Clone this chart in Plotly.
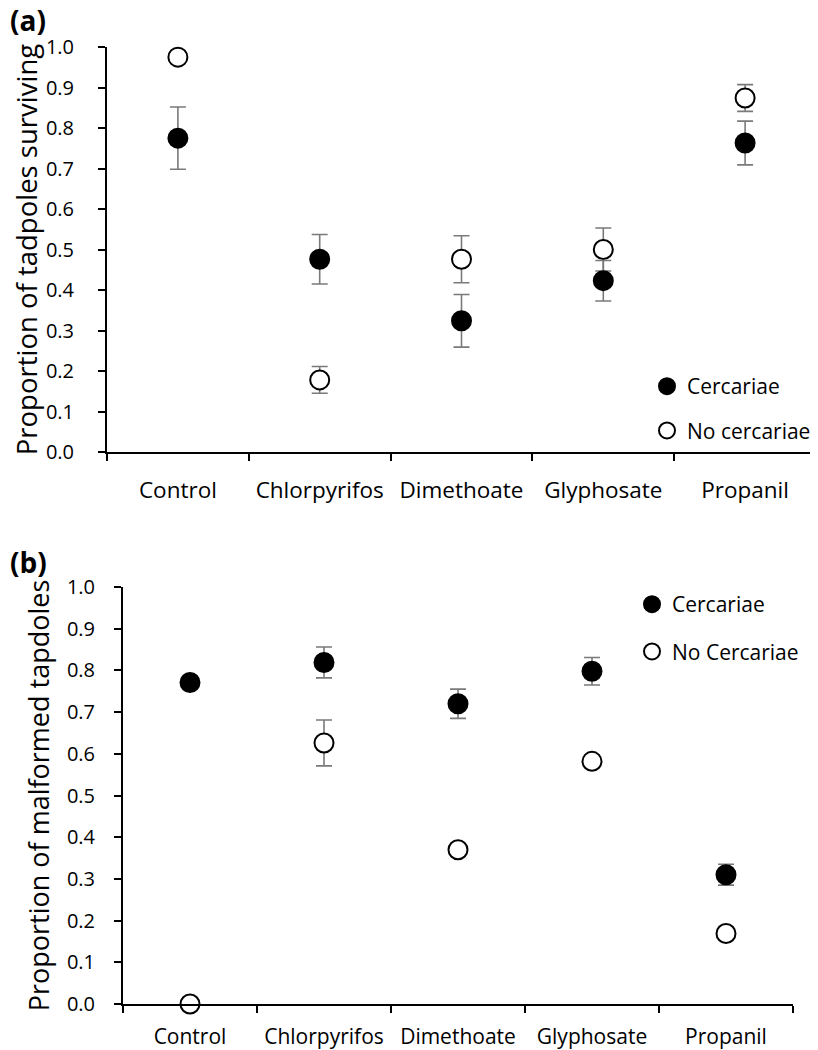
import plotly.graph_objects as go

categories = ["Control", "Chlorpyrifos", "Dimethoate", "Glyphosate", "Propanil"]
y_ticks = [0.0, 0.1, 0.2, 0.3, 0.4, 0.5, 0.6, 0.7, 0.8, 0.9, 1.0]

# Panel (a): proportion of tadpoles surviving
surv_cerc = [0.775, 0.476, 0.324, 0.423, 0.763]
surv_cerc_err = [0.077, 0.061, 0.065, 0.050, 0.054]
surv_nocerc = [0.975, 0.178, 0.476, 0.500, 0.874]
surv_nocerc_err = [0.0, 0.033, 0.058, 0.053, 0.033]

# Panel (b): proportion of malformed tadpoles
malf_cerc = [0.771, 0.819, 0.720, 0.798, 0.310]
malf_cerc_err = [0.0, 0.037, 0.035, 0.033, 0.025]
malf_nocerc = [0.0, 0.626, 0.370, 0.582, 0.169]
malf_nocerc_err = [0.0, 0.055, 0.0, 0.0, 0.0]

FONT = "Open Sans"
W, H = 818, 1050
OFF = 8  # default page body margin


def fx(px):
    return (px - OFF) / W


def fy(py):
    return (H - (py - OFF)) / H


ERR = dict(type="data", color="#7a7a7a", thickness=1.6, width=8)

fig = go.Figure()


def add_panel(xa, ya, legend, cerc, cerc_err, nocerc, nocerc_err, nc_name):
    fig.add_trace(go.Scatter(
        x=categories, y=nocerc, mode="markers", name=nc_name,
        xaxis=xa, yaxis=ya, legend=legend, legendgroup="nc", legendrank=2,
        marker=dict(size=19, color="white", line=dict(color="black", width=2)),
        error_y=dict(array=nocerc_err, visible=True, **ERR),
        cliponaxis=False,
    ))
    fig.add_trace(go.Scatter(
        x=categories, y=cerc, mode="markers", name="Cercariae",
        xaxis=xa, yaxis=ya, legend=legend, legendgroup="c", legendrank=1,
        marker=dict(size=19, color="black", line=dict(color="black", width=2)),
        error_y=dict(array=cerc_err, visible=True, **ERR),
        cliponaxis=False,
    ))


add_panel("x", "y", "legend", surv_cerc, surv_cerc_err, surv_nocerc, surv_nocerc_err, "No cercariae")
add_panel("x2", "y2", "legend2", malf_cerc, malf_cerc_err, malf_nocerc, malf_nocerc_err, "No Cercariae")

axis_common = dict(
    showgrid=False, zeroline=False, showline=True, linecolor="black", linewidth=2,
    ticks="outside", ticklen=7, tickwidth=2, tickcolor="black",
)

fig.update_layout(
    width=W, height=H,
    margin=dict(l=0, r=0, t=0, b=0, autoexpand=False),
    paper_bgcolor="white", plot_bgcolor="white",
    font=dict(family=FONT, color="black"),
    xaxis=dict(domain=[fx(107), fx(816)], anchor="y", type="category",
               categoryorder="array", categoryarray=categories,
               tickson="boundaries", range=[-0.5, 4.5], ticklabelstandoff=17,
               tickangle=0, tickfont=dict(family=FONT, size=22.5, color="black"),
               automargin=False, **axis_common),
    yaxis=dict(domain=[fy(452), fy(47)], anchor="x", range=[0, 1],
               tickvals=y_ticks, tickformat=".1f", ticklabelstandoff=20,
               tickfont=dict(family=FONT, size=20, color="black"),
               title=dict(text="Proportion of tadpoles surviving",
                          font=dict(family=FONT, size=27.5, color="black"), standoff=15),
               automargin=True, **axis_common),
    xaxis2=dict(domain=[fx(123), fx(793)], anchor="y2", type="category",
                categoryorder="array", categoryarray=categories,
                tickson="boundaries", range=[-0.5, 4.5], ticklabelstandoff=13,
                tickangle=0, tickfont=dict(family=FONT, size=21, color="black"),
                automargin=False, **axis_common),
    yaxis2=dict(domain=[fy(1004), fy(587)], anchor="x2", range=[0, 1],
                tickvals=y_ticks, tickformat=".1f", ticklabelstandoff=15,
                tickfont=dict(family=FONT, size=20, color="black"),
                title=dict(text="Proportion of malformed tapdoles",
                           font=dict(family=FONT, size=27, color="black"), standoff=9),
                automargin=True, **axis_common),
    legend=dict(x=fx(668 - 21), y=fy(386 - 20), xanchor="left", yanchor="top",
                bgcolor="rgba(0,0,0,0)", font=dict(family=FONT, size=21, color="black"),
                tracegroupgap=14, traceorder="grouped"),
    legend2=dict(x=fx(653 - 21), y=fy(604 - 20), xanchor="left", yanchor="top",
                 bgcolor="rgba(0,0,0,0)", font=dict(family=FONT, size=21, color="black"),
                 tracegroupgap=17, traceorder="grouped"),
    showlegend=True,
    annotations=[
        dict(text="<b>(a)</b>", x=fx(8), y=fy(20), xref="paper", yref="paper",
             xanchor="left", yanchor="middle", showarrow=False,
             font=dict(family=FONT, size=28, color="black")),
        dict(text="<b>(b)</b>", x=fx(8), y=fy(562), xref="paper", yref="paper",
             xanchor="left", yanchor="middle", showarrow=False,
             font=dict(family=FONT, size=28, color="black")),
    ],
)

fig.write_html("out.html")
